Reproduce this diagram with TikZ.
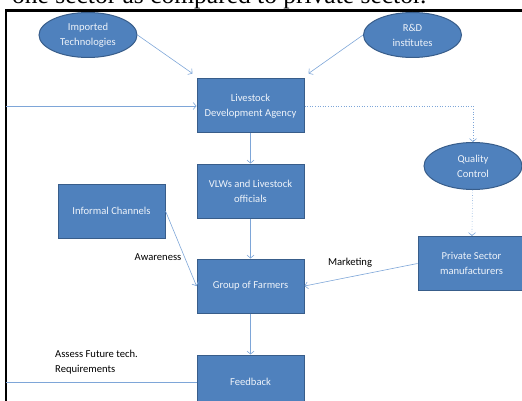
\documentclass[tikz,border=0pt]{standalone}
\usepackage{fontspec}
\setmainfont{Carlito}
\newfontfamily\headfont{Liberation Serif}
\usetikzlibrary{shapes.geometric, positioning, arrows.meta}

\definecolor{boxblue}{HTML}{4F81BD}
\definecolor{boxedge}{HTML}{385D8A}
\definecolor{linkblue}{HTML}{7EA6D8}
\definecolor{boxtext}{HTML}{EEF3FA}

\tikzset{
  block/.style={rectangle, draw=boxedge, fill=boxblue, line width=1pt, text=boxtext,
    minimum width=107pt, minimum height=54pt, align=center, inner sep=2pt,
    font=\fontsize{10.6}{15}\selectfont},
  blob/.style={ellipse, draw=boxedge, fill=boxblue, line width=1pt, text=boxtext,
    minimum width=98pt, minimum height=45pt, align=center, inner sep=0pt,
    font=\fontsize{10.6}{15}\selectfont},
  link/.style={draw=linkblue, line width=0.6pt, -{Straight Barb[length=3pt,width=7pt]}},
  note/.style={font=\fontsize{10.6}{15}\selectfont, align=left}
}

\begin{document}
\begin{tikzpicture}[x=1pt, y=-1pt, node distance=30pt]
  \useasboundingbox (0,0) rectangle (522,401);
  \clip (0,0) rectangle (522,401);

  % page text and frame
  \node[anchor=base west, inner sep=0pt, font=\headfont\fontsize{25.5}{28}\selectfont] (head) at (12,4)
    {one sector as compared to private sector.};
  \draw[line width=2.2pt] (6,401) -- (6,10.5) -- (522,10.5);

  % sources
  \node[blob] (imp) at (88,35) {Imported\\Technologies};
  \node[blob] (rnd) at (412.5,35) {R\&D\\institutes};

  % main column
  \node[block] (lda) at (250.5,106) {Livestock\\Development Agency};
  \node[block] (vlw) [below=30pt of lda] {VLWs and Livestock\\officials};
  \node[block] (gof) [below=40pt of vlw] {Group of Farmers};
  \node[block] (fb) [below=41pt of gof] {Feedback};

  % side nodes
  \node[block] (inf) at (111.5,211) {Informal Channels};
  \node[blob, minimum height=47pt] (qc) at (473,166) {Quality\\Control};
  \node[block] (psm) at (471.5,263.5) {Private Sector\\manufacturers};

  \coordinate (inlet) at (6,106);
  \coordinate (outlet) at (inlet |- fb.west);

  % connectors
  \path[link] (imp.east) -- ([shift={(-4,-5)}]lda.north west);
  \path[link] (rnd.west) -- ([shift={(4,-5)}]lda.north east);
  \path[link] (inlet) -- (lda.west);
  \path[link] (lda) -- (vlw);
  \path[link] (vlw) -- (gof);
  \path[link] (gof) -- (fb);
  \path[link] (inf.east) -- (gof.west);
  \path[link] (psm.west) -- (gof.east);
  \path[link, dotted] (lda.east) -| (qc.north);
  \path[link, dotted] (qc) -- (psm);
  \draw[linkblue, line width=0.6pt] (fb.west) -- (outlet);

  % labels
  \node[note] (aw) at (158,257) {Awareness};
  \node[note] (mk) at (350,263) {Marketing};
  \node[note, anchor=north west, inner sep=0pt] (req) at (55,350) {Assess Future tech.\\Requirements};
\end{tikzpicture}
\end{document}
